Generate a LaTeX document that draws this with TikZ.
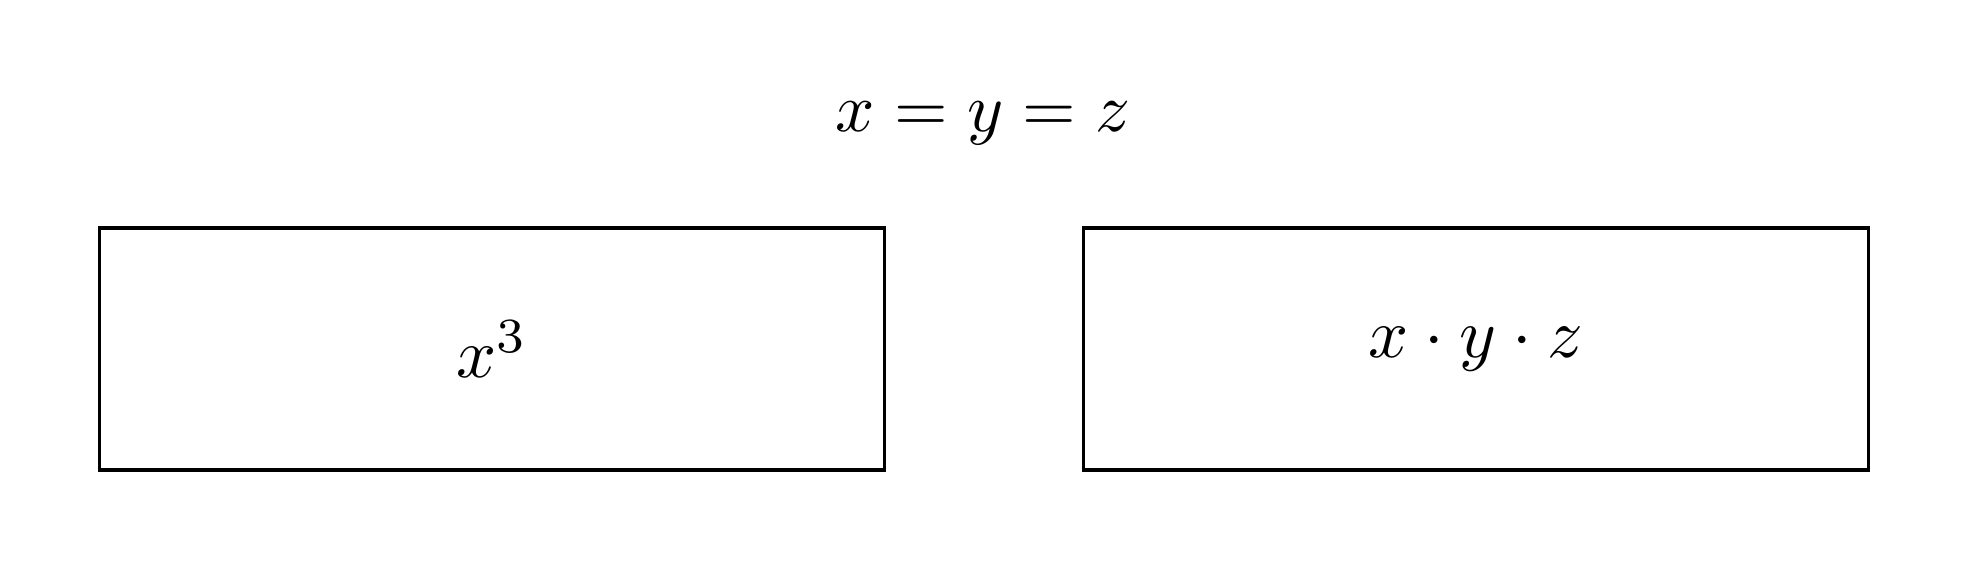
\documentclass[tikz,border=0pt]{standalone}
\begin{document}
\begin{tikzpicture}[x=0.005cm,y=-0.005cm,
  box/.style={draw=black,line width=0.5pt,minimum width=3.93cm,minimum height=1.21cm,inner sep=0pt,outer sep=0pt}]
\useasboundingbox (0,0) rectangle (1969,570);
\node[scale=0.98] (title) at (983,123) {$x = y = z$};
\node[box] (left) at (492,349) {$x^3$};
\node[box] (right) at (1476,349) {$x \cdot y \cdot z$};
\end{tikzpicture}
\end{document}
